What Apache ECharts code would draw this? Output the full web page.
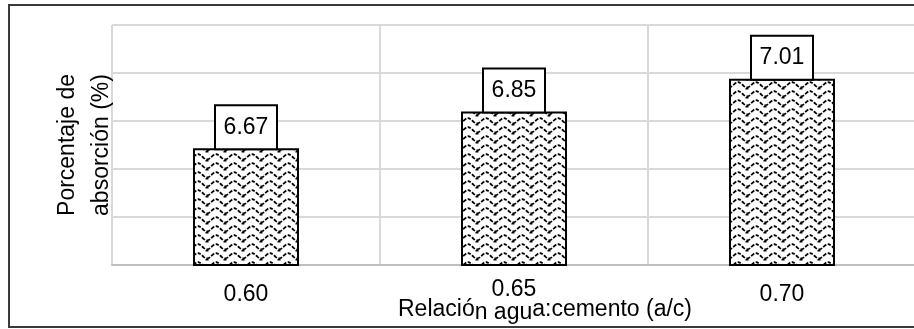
<!DOCTYPE html>
<html>
<head>
<meta charset="utf-8">
<script src="https://cdn.jsdelivr.net/npm/echarts@6/dist/echarts.min.js"></script>
<style>
html,body{margin:0;padding:0;background:#fff;}
#chart{width:914px;height:329px;}
</style>
</head>
<body>
<div id="chart"></div>
<script>
const categories = ['0.60', '0.65', '0.70'];
const absorption = [6.67, 6.85, 7.01];
const xAxisTitle = 'Relación agua:cemento (a/c)';
const yAxisTitle = 'Porcentaje de\nabsorción (%)';

function makePattern() {
  const c = document.createElement('canvas');
  c.width = 18; c.height = 9;
  const g = c.getContext('2d');
  g.fillStyle = '#fff';
  g.fillRect(0, 0, 18, 9);
  g.strokeStyle = '#000';
  g.lineWidth = 1.8;
  g.setLineDash([4, 1.5]);
  g.beginPath();
  for (let x = -1; x <= 19; x += 0.5) {
    const y = 3.8 - 2.6 * Math.cos(2 * Math.PI * x / 18);
    if (x === -1) g.moveTo(x, y); else g.lineTo(x, y);
  }
  g.stroke();
  g.fillStyle = '#000';
  g.fillRect(7.5, 7, 3, 1.5);
  return c;
}

const chart = echarts.init(document.getElementById('chart'), null, {renderer: 'canvas'});
const fs = 23;
const yInterval = 0.2346;
const yMin = yInterval * 26;

// split the axis title as the reference renders it (middle fragment dropped slightly)
const xName = '{a|' + xAxisTitle.slice(0, 7) + '}{b|' + xAxisTitle.slice(7, 12) + '}{a|' + xAxisTitle.slice(12) + '}';

chart.setOption({
  backgroundColor: '#fff',
  animation: false,
  textStyle: {fontFamily: 'Liberation Sans, Arial, sans-serif', color: '#000'},
  graphic: [{
    type: 'rect',
    shape: {x: 9, y: 5, width: 930, height: 322},
    style: {fill: 'none', stroke: '#3a3a3a', lineWidth: 2},
    silent: true
  }],
  grid: {left: 112, right: -2, top: 25, bottom: 64, outerBoundsMode: 'none', containLabel: false},
  xAxis: {
    type: 'category',
    data: categories,
    boundaryGap: true,
    axisLine: {show: true, lineStyle: {color: '#bfbfbf', width: 2}},
    axisTick: {show: false},
    splitLine: {show: true, lineStyle: {color: '#d9d9d9', width: 2}},
    axisLabel: {
      margin: 13,
      fontSize: fs,
      color: '#000',
      formatter: function (v) { return v === '0.65' ? '{u|' + v + '}' : '{n|' + v + '}'; },
      rich: {
        n: {fontSize: fs, padding: [5, 0, 0, 0], color: '#000'},
        u: {fontSize: fs, color: '#000'}
      }
    },
    name: xName,
    nameLocation: 'middle',
    nameGap: 31,
    nameMoveOverlap: false,
    nameTextStyle: {
      fontSize: fs, color: '#000', padding: [0, 0, 0, 62],
      rich: {
        a: {fontSize: fs, color: '#000'},
        b: {fontSize: fs, color: '#000', padding: [5, 0, 0, 0]}
      }
    }
  },
  yAxis: {
    type: 'value',
    min: yMin,
    max: yMin + yInterval * 5,
    interval: yInterval,
    axisLine: {show: false},
    axisTick: {show: false},
    axisLabel: {show: false},
    splitLine: {show: true, lineStyle: {color: '#d9d9d9', width: 2}},
    name: yAxisTitle,
    nameLocation: 'middle',
    nameGap: -7,
    nameMoveOverlap: false,
    nameTextStyle: {fontSize: fs, lineHeight: 34, color: '#000', align: 'center'}
  },
  series: [{
    type: 'bar',
    data: absorption,
    barWidth: 106,
    itemStyle: {
      color: {image: makePattern(), repeat: 'repeat'},
      borderColor: '#000',
      borderWidth: 2
    },
    label: {
      show: true,
      position: 'top',
      distance: 0,
      formatter: function (p) { return p.value.toFixed(2); },
      fontSize: fs,
      color: '#000',
      backgroundColor: '#fff',
      borderColor: '#000',
      borderWidth: 2,
      width: 60,
      height: 42,
      lineHeight: 42,
      align: 'center',
      padding: 0
    }
  }]
});
</script>
</body>
</html>
